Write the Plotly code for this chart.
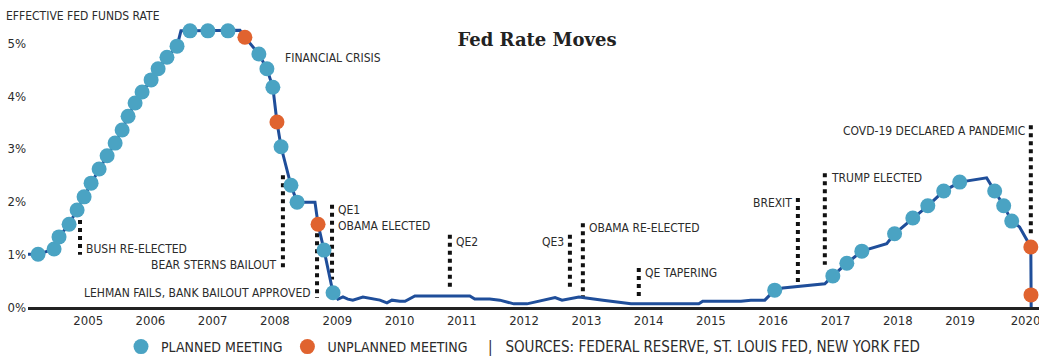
import plotly.graph_objects as go

# ---------------- data ----------------
LINE_DATES = [
    "2004-01-01", "2004-03-13", "2004-06-15", "2004-07-14", "2004-09-11", "2004-10-28", "2004-12-08",
    "2005-01-18", "2005-03-06", "2005-04-22", "2005-06-08", "2005-07-19", "2005-08-23", "2005-10-03",
    "2005-11-13", "2006-01-05", "2006-02-15", "2006-04-08", "2006-06-06", "2006-06-29", "2006-08-21",
    "2006-12-04", "2007-04-01", "2007-06-10", "2007-07-09", "2007-09-29", "2007-11-15", "2007-12-20",
    "2008-01-13", "2008-02-06", "2008-04-04", "2008-05-10", "2008-08-23", "2008-09-10", "2008-10-15",
    "2008-12-07", "2009-01-05", "2009-02-03", "2009-03-04", "2009-04-02", "2009-05-31", "2009-07-29",
    "2009-09-08", "2009-10-19", "2009-11-17", "2010-01-03", "2010-02-02", "2010-04-01", "2010-07-16",
    "2011-02-17", "2011-03-18", "2011-06-14", "2011-08-12", "2011-11-02", "2012-01-18", "2012-05-03",
    "2012-07-01", "2012-08-11", "2012-11-18", "2013-04-08", "2013-09-19", "2014-10-22", "2014-11-14",
    "2015-06-26", "2015-08-23", "2015-11-13", "2016-01-10", "2016-02-26", "2016-10-30", "2016-12-16",
    "2017-03-08", "2017-06-04", "2017-10-28", "2017-12-13", "2018-03-30", "2018-06-26", "2018-09-27",
    "2018-12-30", "2019-06-06", "2019-07-23", "2019-09-14", "2019-10-31", "2019-12-16", "2020-02-20",
    "2020-02-21", "2020-02-22",
]
LINE_RATES = [
    1.00, 1.00, 1.10, 1.33, 1.57, 1.84, 2.09,
    2.35, 2.62, 2.87, 3.11, 3.36, 3.62, 3.87,
    4.08, 4.31, 4.52, 4.74, 4.95, 5.24, 5.24,
    5.24, 5.24, 5.25, 5.12, 4.80, 4.52, 4.17,
    3.51, 3.04, 2.31, 1.99, 1.99, 1.57, 1.08,
    0.27, 0.15, 0.19, 0.15, 0.13, 0.19, 0.15,
    0.13, 0.08, 0.13, 0.11, 0.11, 0.21, 0.21,
    0.21, 0.15, 0.15, 0.13, 0.06, 0.06, 0.13,
    0.18, 0.13, 0.19, 0.13, 0.06, 0.06, 0.11,
    0.11, 0.13, 0.13, 0.32, 0.36, 0.44, 0.59,
    0.83, 1.06, 1.20, 1.39, 1.69, 1.92, 2.20,
    2.37, 2.45, 2.20, 1.92, 1.63, 1.52, 1.14,
    0.23, 0.00,
]

PLANNED_DATES = [
    "2004-03-13", "2004-06-15", "2004-07-14", "2004-09-11", "2004-10-28", "2004-12-08",
    "2005-01-18", "2005-03-06", "2005-04-22", "2005-06-08", "2005-07-19", "2005-08-23", "2005-10-03",
    "2005-11-13", "2006-01-05", "2006-02-15", "2006-04-08", "2006-06-06", "2006-08-21",
    "2006-12-04", "2007-04-01", "2007-09-29", "2007-11-15", "2007-12-20",
    "2008-02-06", "2008-04-04", "2008-05-10", "2008-10-15", "2008-12-07",
    "2016-01-10", "2016-12-16", "2017-03-08", "2017-06-04", "2017-12-13", "2018-03-30",
    "2018-06-26", "2018-09-27", "2018-12-30", "2019-07-23", "2019-09-14", "2019-10-31",
]
PLANNED_RATES = [
    1.00, 1.10, 1.33, 1.57, 1.84, 2.09,
    2.35, 2.62, 2.87, 3.11, 3.36, 3.62, 3.87,
    4.08, 4.31, 4.52, 4.74, 4.95, 5.24,
    5.24, 5.24, 4.80, 4.52, 4.17,
    3.04, 2.31, 1.99, 1.08, 0.27,
    0.32, 0.59, 0.83, 1.06, 1.39, 1.69,
    1.92, 2.20, 2.37, 2.20, 1.92, 1.63,
]

UNPLANNED_DATES = ["2007-07-09", "2008-01-13", "2008-09-10", "2020-02-20", "2020-02-21"]
UNPLANNED_RATES = [5.12, 3.51, 1.57, 1.14, 0.23]

EVENT_LABELS = [
    "BUSH RE-ELECTED", "BEAR STERNS BAILOUT", "LEHMAN FAILS, BANK BAILOUT APPROVED",
    "QE1<br>OBAMA ELECTED", "QE2", "QE3", "OBAMA RE-ELECTED", "QE TAPERING",
    "BREXIT", "TRUMP ELECTED", "COVD-19 DECLARED A PANDEMIC",
]
EVENT_DATES = [
    "2004-11-14", "2008-02-17", "2008-09-04", "2008-12-01", "2010-10-23", "2012-09-26",
    "2012-12-11", "2013-11-04", "2016-05-25", "2016-10-30", "2020-02-20",
]
EVENT_TOPS = [1.65, 2.50, 1.55, 1.94, 1.37, 1.37, 1.59, 0.74, 2.07, 2.54, 3.45]
EVENT_BOTTOMS = [0.99, 0.70, 0.17, 0.52, 0.32, 0.32, 0.19, 0.19, 0.47, 0.80, 1.33]

YEAR_TICKS = ["2005-01-01", "2006-01-01", "2007-01-01", "2008-01-01", "2009-01-01", "2010-01-01",
              "2011-01-01", "2012-01-01", "2013-01-01", "2014-01-01", "2015-01-01", "2016-01-01",
              "2017-01-01", "2018-01-01", "2019-01-01", "2020-01-20"]
YEAR_LABELS = ["2005", "2006", "2007", "2008", "2009", "2010", "2011", "2012", "2013", "2014",
               "2015", "2016", "2017", "2018", "2019", "2020"]
RATE_TICKS = [0, 1, 2, 3, 4, 5]
RATE_LABELS = ["0%", "1%", "2%", "3%", "4%", "5%"]

# ---------------- label placement (layout) ----------------
LABEL_Y = [1.10, 0.80, 0.26, 1.69, 1.24, 1.24, 1.50, 0.64, 1.97, 2.44, 3.34]
LABEL_SIDE = ["right", "left", "left", "right", "right", "left", "right", "right", "left", "right", "left"]

NARROW = "DejaVu Sans Condensed, Liberation Sans Narrow, Arial Narrow, sans-serif"
TEXT = "#2b2b2b"
LINE_BLUE = "#1f4e9a"
DOT_BLUE = "#4aa3c3"
DOT_ORANGE = "#e0632f"
ANN_SIZE = 12

W, H = 1039, 356
ML, MR, MT, MB = 28, 0, 10, 49
PW, PH = W - ML - MR, H - MT - MB


def px_x(px):
    return (px - ML) / PW


def px_y(py):
    return (H - MB - py) / PH


fig = go.Figure()

# event markers (dotted vertical lines)
for d, top, bot in zip(EVENT_DATES, EVENT_TOPS, EVENT_BOTTOMS):
    fig.add_trace(go.Scatter(
        x=[d, d], y=[top, bot], mode="lines",
        line=dict(color="#111111", width=4, dash="4px,4px"),
        hoverinfo="skip", showlegend=False,
    ))

fig.add_trace(go.Scatter(
    x=LINE_DATES, y=LINE_RATES, mode="lines",
    line=dict(color=LINE_BLUE, width=3), showlegend=False, cliponaxis=False,
))
fig.add_trace(go.Scatter(
    x=PLANNED_DATES, y=PLANNED_RATES, mode="markers", name="PLANNED MEETING",
    marker=dict(color=DOT_BLUE, size=15, line=dict(width=0)), cliponaxis=False,
))
fig.add_trace(go.Scatter(
    x=UNPLANNED_DATES, y=UNPLANNED_RATES, mode="markers", name="UNPLANNED MEETING",
    marker=dict(color=DOT_ORANGE, size=15, line=dict(width=0)), cliponaxis=False,
))

annotations = []
for d, lab, ly, side in zip(EVENT_DATES, EVENT_LABELS, LABEL_Y, LABEL_SIDE):
    annotations.append(dict(
        x=d, y=ly, xref="x", yref="y", text=lab, showarrow=False,
        xanchor="left" if side == "right" else "right",
        align="left" if side == "right" else "right",
        xshift=4 if side == "right" else -4,
        yanchor="middle", font=dict(family=NARROW, size=ANN_SIZE, color=TEXT),
    ))
annotations.append(dict(
    x="2008-02-17", y=4.72, xref="x", yref="y", text="FINANCIAL CRISIS", showarrow=False,
    xanchor="left", yanchor="middle", font=dict(family=NARROW, size=ANN_SIZE, color=TEXT),
))
annotations.append(dict(
    x=px_x(4), y=px_y(16), xref="paper", yref="paper", text="EFFECTIVE FED FUNDS RATE",
    showarrow=False, xanchor="left", yanchor="middle",
    font=dict(family=NARROW, size=ANN_SIZE, color=TEXT),
))
annotations.append(dict(
    x=px_x(486), y=px_y(347), xref="paper", yref="paper",
    text="|&nbsp;&nbsp;&nbsp;SOURCES: FEDERAL RESERVE, ST. LOUIS FED, NEW YORK FED",
    showarrow=False, xanchor="left", yanchor="middle",
    font=dict(family=NARROW, size=15, color=TEXT),
))

fig.update_layout(
    width=W, height=H,
    margin=dict(l=ML, r=MR, t=MT, b=MB, autoexpand=False),
    paper_bgcolor="white", plot_bgcolor="white",
    title=dict(text="<b>Fed Rate Moves</b>", x=537 / W, xanchor="center",
               y=1 - 40 / H, yanchor="middle", xref="container", yref="container",
               font=dict(family="DejaVu Serif, Liberation Serif, serif", size=18, color="#222222")),
    xaxis=dict(type="date", range=["2004-01-14", "2020-04-08"], showgrid=False, zeroline=False,
               showline=True, linecolor="#222222", linewidth=2.5, automargin=False,
               tickvals=YEAR_TICKS, ticktext=YEAR_LABELS, ticks="", ticklabeloverflow="allow",
               tickfont=dict(family=NARROW, size=13, color=TEXT), ticklabelstandoff=0),
    yaxis=dict(range=[0, 5.636], showgrid=False, zeroline=False, showline=False, automargin=False,
               tickvals=RATE_TICKS, ticktext=RATE_LABELS, ticks="",
               tickfont=dict(family=NARROW, size=13, color=TEXT), ticklabelstandoff=1),
    showlegend=True,
    legend=dict(orientation="h", x=px_x(121), xanchor="left", y=px_y(347), yanchor="middle",
                font=dict(family=NARROW, size=14, color=TEXT), itemwidth=30,
                bgcolor="rgba(0,0,0,0)", traceorder="normal"),
    annotations=annotations,
)

fig.write_html(
    "out.html",
    config={"displayModeBar": False},
    post_script="document.body.style.margin='0';document.body.style.overflow='hidden';",
)
